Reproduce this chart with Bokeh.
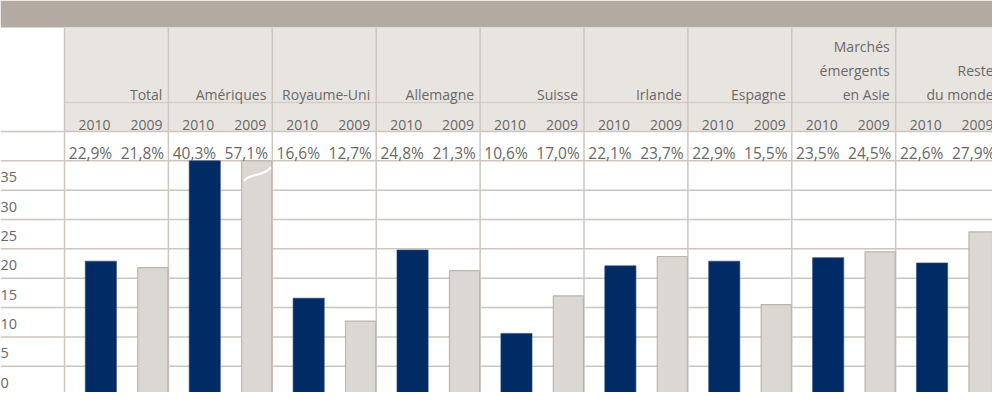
from bokeh.plotting import figure
from bokeh.models import Range1d, ColumnDataSource
from bokeh.embed import file_html
from bokeh.resources import INLINE
from bokeh.core.properties import value

# ---------------- data ----------------
categories = ["Total", "Amériques", "Royaume-Uni", "Allemagne", "Suisse",
              "Irlande", "Espagne", "Marchés\némergents\nen Asie", "Reste\ndu monde"]
years = ["2010", "2009"]
values_2010 = [22.9, 40.3, 16.6, 24.8, 10.6, 22.1, 22.9, 23.5, 22.6]
values_2009 = [21.8, 57.1, 12.7, 21.3, 17.0, 23.7, 15.5, 24.5, 27.9]
y_ticks = [0, 5, 10, 15, 20, 25, 30, 35]
Y_MAX = 40

# ---------------- layout constants (canvas px) ----------------
W, H = 992, 392
GX0 = 64.0        # left edge of first group column
COLW = 103.9      # group column width
PXU = 5.87        # px per value unit
TOP = 160.3       # canvas y of value Y_MAX

def X(cx):
    return (cx - GX0) / COLW

def Y(cy):
    return Y_MAX - (cy - TOP) / PXU

FONT = value("Open Sans")
TXT = "#686868"
BAND = "#b3aba2"
HEADBG = "#e8e5e1"
LINE = "#cdc6bf"
NAVY = "#012b65"
LIGHT = "#dbd7d2"
LIGHT_EDGE = "#bdb5ac"

n = len(categories)
xl, xr = X(0), X(W)

p = figure(width=W, height=H, x_range=Range1d(xl, xr), y_range=Range1d(Y(H), Y(0)),
           output_backend="svg", toolbar_location=None, min_border=0,
           x_axis_location=None, y_axis_location=None, outline_line_color=None,
           background_fill_color="white", border_fill_color="white")
p.grid.visible = False

# header band
p.quad(left=[xl], right=[xr + 1], top=[Y(0)], bottom=[Y(27)], fill_color=BAND, line_color=None)
# header cells background (category + year rows)
p.quad(left=[X(GX0)], right=[xr + 1], top=[Y(27)], bottom=[Y(131)], fill_color=HEADBG, line_color=None)

# horizontal rules
p.segment(x0=[X(GX0)], y0=[Y(102)], x1=[xr + 1], y1=[Y(102)], line_color="#d6cfc8", line_width=1.5)
p.segment(x0=[xl], y0=[Y(131)], x1=[xr + 1], y1=[Y(131)], line_color=LINE, line_width=1.5)
grid_vals = y_ticks + [Y_MAX]
p.segment(x0=[xl] * len(grid_vals), y0=grid_vals, x1=[xr + 1] * len(grid_vals), y1=grid_vals,
          line_color=LINE, line_width=1.5)

# vertical group separators
vx = [float(i) for i in range(n + 1)]
p.segment(x0=vx, y0=[Y(27)] * len(vx), x1=vx, y1=[Y(H + 10)] * len(vx),
          line_color=LINE, line_width=1.5)

# bars
idx = list(range(n))
src10 = ColumnDataSource(dict(x=[i + 0.35 for i in idx], top=[min(v, Y_MAX) for v in values_2010]))
src09 = ColumnDataSource(dict(x=[i + 0.85 for i in idx], top=[min(v, Y_MAX) for v in values_2009]))
p.vbar(x="x", top="top", bottom=-5, width=0.3, source=src10, fill_color=NAVY, line_color="#2a4a80", line_width=0.6)
p.vbar(x="x", top="top", bottom=-5, width=0.29, source=src09, fill_color=LIGHT, line_color=LIGHT_EDGE, line_width=1.2)

# break marks for bars far over the axis maximum
for vals, off in ((values_2010, 0.35), (values_2009, 0.85)):
    for i, v in enumerate(vals):
        if v > Y_MAX + 5:
            cxc = GX0 + (i + off) * COLW
            p.bezier(x0=[X(cxc - 12.6)], y0=[Y(TOP + 20)],
                     x1=[X(cxc + 14.2)], y1=[Y(TOP + 6.7)],
                     cx0=[X(cxc - 6.3)], cy0=[Y(TOP + 11.7)],
                     cx1=[X(cxc + 5.7)], cy1=[Y(TOP + 16.7)],
                     line_color="white", line_width=2.2)

# category labels (multi-line, right aligned, bottom line baseline fixed)
lx, ly, lt = [], [], []
for i, c in enumerate(categories):
    lines = c.split("\n")
    for k, t in enumerate(reversed(lines)):
        lx.append(i + 1 - 6 / COLW)
        ly.append(Y(94 - 24 * k))
        lt.append(t)
p.text(x=lx, y=ly, text=lt, text_font=FONT, text_font_size="14px", text_color=TXT,
       text_align="right", text_baseline="alphabetic")

# year labels
yx, yy, yt = [], [], []
for i in idx:
    for j, yr in enumerate(years):
        yx.append(i + 0.5 * (j + 1) - 6 / COLW)
        yy.append(Y(124))
        yt.append(yr)
p.text(x=yx, y=yy, text=yt, text_font=FONT, text_font_size="14px", text_color=TXT,
       text_align="right", text_baseline="alphabetic")

# percent labels
def fmt(v):
    return f"{v:.1f}%".replace(".", ",")

px_, py_, pt_ = [], [], []
for i in idx:
    for j, vals in enumerate((values_2010, values_2009)):
        px_.append(i + 0.25 + 0.5 * j)
        py_.append(Y(152))
        pt_.append(fmt(vals[i]))
p.text(x=px_, y=py_, text=pt_, text_font=FONT, text_font_size="15.5px", text_color=TXT,
       text_align="center", text_baseline="alphabetic")

# y tick labels
p.text(x=[xl] * len(y_ticks), y=y_ticks, text=[str(t) for t in y_ticks], text_font=FONT,
       text_font_size="14.5px", text_color=TXT, text_align="left", text_baseline="middle",
       y_offset=-13)

open("out.html", "w").write(file_html(p, INLINE))
